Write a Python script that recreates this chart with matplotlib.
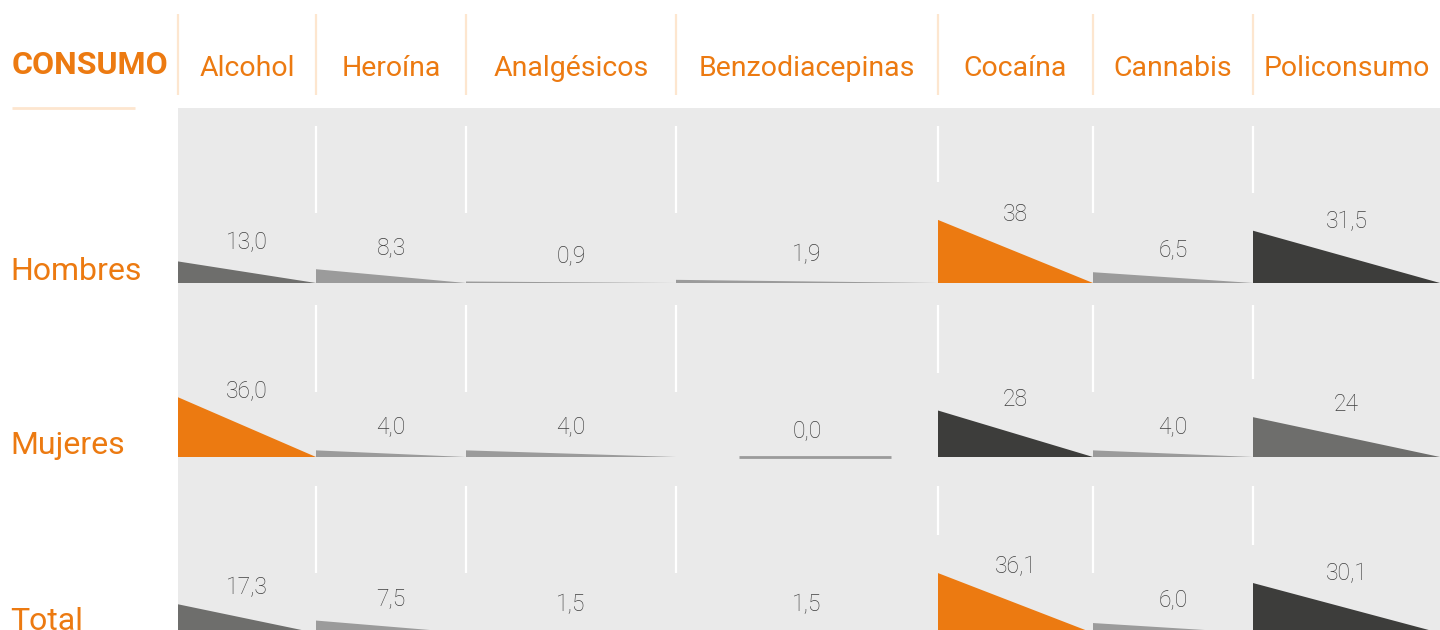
import matplotlib
matplotlib.use('Agg')
import matplotlib.pyplot as plt
from matplotlib.patches import Polygon, Rectangle

# ---- data ----
categories = ['Alcohol', 'Heroína', 'Analgésicos', 'Benzodiacepinas', 'Cocaína', 'Cannabis', 'Policonsumo']
groups = ['Hombres', 'Mujeres', 'Total']
hombres = [13.0, 8.3, 0.9, 1.9, 38.0, 6.5, 31.5]
mujeres = [36.0, 4.0, 4.0, 0.0, 28.0, 4.0, 24.0]
total = [17.3, 7.5, 1.5, 1.5, 36.1, 6.0, 30.1]
hombres_lbl = ['13,0', '8,3', '0,9', '1,9', '38', '6,5', '31,5']
mujeres_lbl = ['36,0', '4,0', '4,0', '0,0', '28', '4,0', '24']
total_lbl = ['17,3', '7,5', '1,5', '1,5', '36,1', '6,0', '30,1']
corner_title = 'CONSUMO'

# ---- style / layout ----
ORANGE = '#EC7A11'
DARK = '#3D3D3B'
MED = '#6E6E6C'
LIGHT = '#9B9B9B'
BG = '#EAEAEA'
SEP = '#FDE6CF'
VALC = '#3F3F3F'
FONT = ['Roboto', 'DejaVu Sans']

W, H = 1440, 630
col_edges = [178, 316, 466, 676, 938, 1093, 1253, 1440]
row_base = [283, 457, 633]
row_top = [126, 305, 486]
line_len = 87
px_per_unit = 1.66

fig = plt.figure(figsize=(W / 100, H / 100), dpi=100)
ax = fig.add_axes([0, 0, 1, 1])
ax.set_xlim(0, W)
ax.set_ylim(H, 0)
ax.axis('off')

# grey panel
ax.add_patch(Rectangle((col_edges[0], 108), W - col_edges[0], H - 108, color=BG, zorder=0, lw=0))

# header
ax.text(12, 74, corner_title, color=ORANGE, fontsize=23, fontweight='bold', family=FONT,
        ha='left', va='baseline')
ax.plot([12, 135], [108, 108], color=SEP, lw=2, solid_capstyle='butt')
for x in col_edges[:-1]:
    ax.plot([x, x], [14, 95], color=SEP, lw=1.6, solid_capstyle='butt')
for i, c in enumerate(categories):
    cx = (col_edges[i] + col_edges[i + 1]) / 2
    ax.text(cx, 76, c, color=ORANGE, fontsize=20.5, family=FONT, ha='center', va='baseline')

rank_colors = [ORANGE, DARK, MED]

rows = [hombres, mujeres, total]
row_lbls = [hombres_lbl, mujeres_lbl, total_lbl]
for r, (vals, lbls) in enumerate(zip(rows, row_lbls)):
    base = row_base[r]
    ax.text(10, base - 3, groups[r], color=ORANGE, fontsize=23, family=FONT, ha='left', va='baseline')
    order = sorted(range(len(vals)), key=lambda k: -vals[k])
    colors = [LIGHT] * len(vals)
    for rank, k in enumerate(order[:3]):
        colors[k] = rank_colors[rank]
    for i, v in enumerate(vals):
        x0, x1 = col_edges[i], col_edges[i + 1]
        cx = (x0 + x1) / 2
        h = v * px_per_unit
        top = base - h
        if v > 0:
            ax.add_patch(Polygon([(x0, base), (x0, top), (x1, base)], closed=True,
                                 facecolor=colors[i], edgecolor='none', zorder=2))
        else:
            w = x1 - x0
            ax.plot([cx - 0.26 * w, cx + 0.32 * w], [base - 0.5, base - 0.5], color=LIGHT, lw=2,
                    solid_capstyle='butt', zorder=2)
        # white separator line at left edge of cell
        if i > 0:
            end = min(row_top[r] + line_len, top - 38)
            ax.plot([x0, x0], [row_top[r], end], color='white', lw=1.6, solid_capstyle='butt', zorder=1)
        # value label
        ly = base - (29 + 0.66 * h)
        ax.text(cx, ly, lbls[i], color=VALC, fontsize=16.5, family=FONT, fontweight='light',
                ha='center', va='center_baseline', zorder=3)

fig.savefig('out.png', dpi=100)
